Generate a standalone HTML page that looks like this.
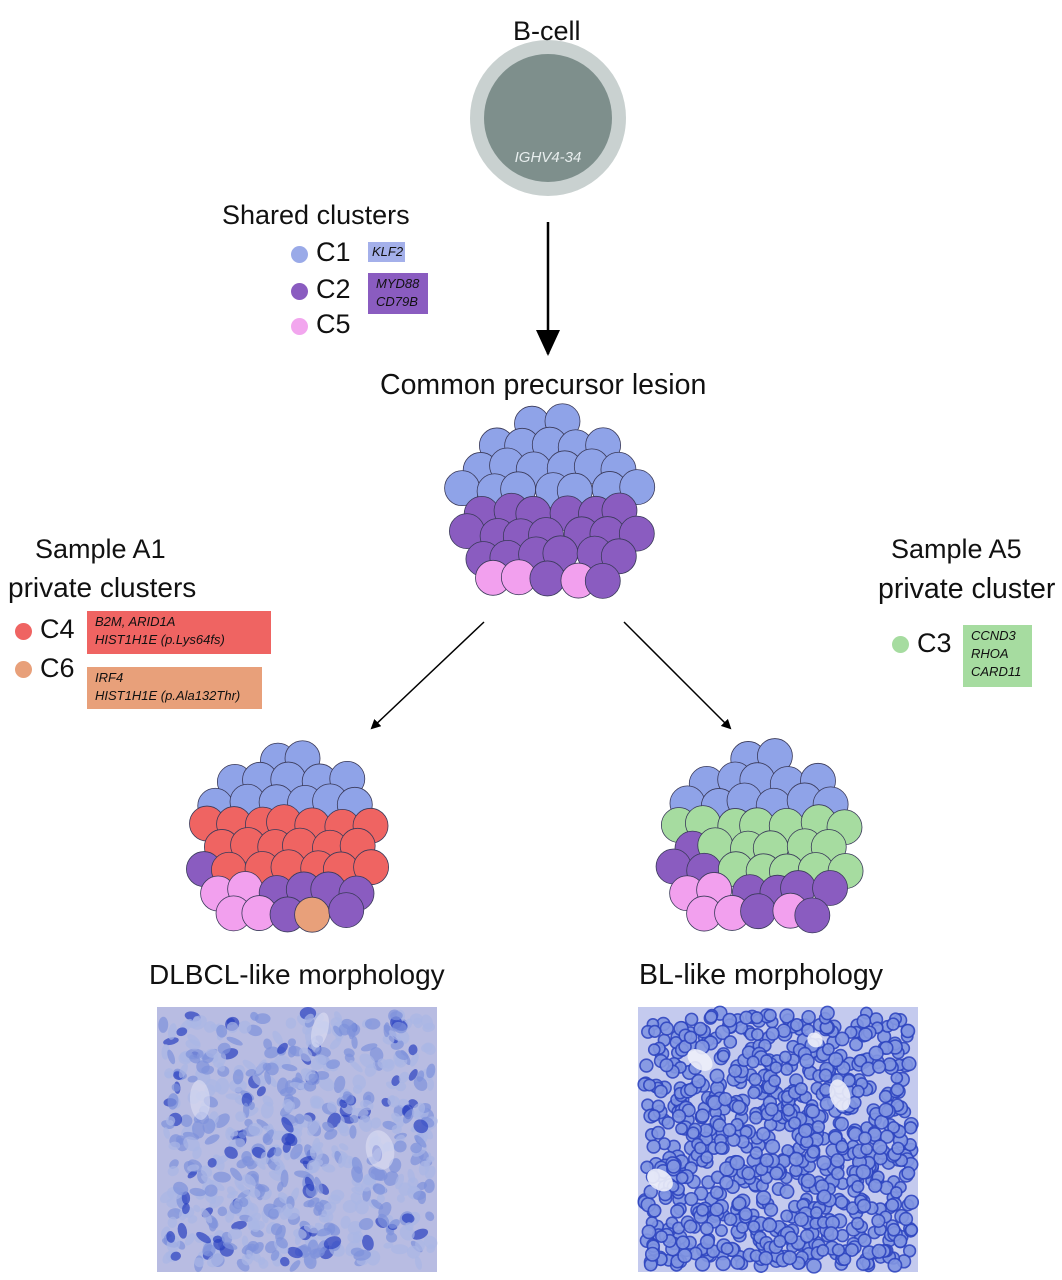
<!DOCTYPE html>
<html><head><meta charset="utf-8"><style>
body{margin:0;background:#fff;width:1062px;height:1280px;overflow:hidden;position:relative;font-family:"Liberation Sans","DejaVu Sans",sans-serif;color:#111}
.t{position:absolute;white-space:nowrap;font-size:27px}
.box{position:absolute;font-style:italic;font-size:13px;line-height:18px;padding:2px 8px;color:#111}
.dot{position:absolute;width:17px;height:17px;border-radius:50%}
</style></head><body>
<svg id="s" width="1062" height="1280" style="position:absolute;left:0;top:0">
<defs><marker id="a" markerWidth="10" markerHeight="10" refX="8" refY="5" orient="auto" markerUnits="userSpaceOnUse"><path d="M0,0L10,5L0,10z" fill="#000"/></marker>
<marker id="b" markerWidth="26" markerHeight="24" refX="24" refY="12" orient="auto" markerUnits="userSpaceOnUse"><path d="M0,0L26,12L0,24z" fill="#000"/></marker></defs>
<circle cx="548" cy="118" r="78" fill="#c9d1d0"/>
<circle cx="548" cy="118" r="64" fill="#7e8f8c"/>
<text x="548" y="162" font-size="15" font-style="italic" fill="#e8eeee" text-anchor="middle" font-family="Liberation Sans,sans-serif">IGHV4-34</text>
<line x1="548" y1="222" x2="548" y2="354" stroke="#000" stroke-width="2.5" marker-end="url(#b)"/>
<line x1="484" y1="622" x2="372" y2="728" stroke="#000" stroke-width="1.5" marker-end="url(#a)"/>
<line x1="624" y1="622" x2="730" y2="728" stroke="#000" stroke-width="1.5" marker-end="url(#a)"/>
<g id="g"></g>
</svg>
<div class="t" style="left:513px;top:16px">B-cell</div>
<div class="t" style="left:222px;top:200px">Shared clusters</div>
<div class="dot" style="left:291px;top:246px;background:#9aaae8"></div><div class="t" style="left:316px;top:237px">C1</div>
<div class="dot" style="left:291px;top:283px;background:#8a5cc0"></div><div class="t" style="left:316px;top:274px">C2</div>
<div class="dot" style="left:291px;top:318px;background:#f2a6ee"></div><div class="t" style="left:316px;top:309px">C5</div>
<div class="box" style="left:368px;top:242px;width:29px;background:#a4b0ea;padding:1px 4px">KLF2</div>
<div class="box" style="left:368px;top:273px;width:44px;background:#8a5cc0;height:37px">MYD88<br>CD79B</div>
<div class="t" style="left:380px;top:369px;font-size:28.5px">Common precursor lesion</div>
<div class="t" style="left:35px;top:534px">Sample A1</div>
<div class="t" style="left:8px;top:572px;font-size:28px">private clusters</div>
<div class="dot" style="left:15px;top:623px;background:#ef6462"></div><div class="t" style="left:40px;top:614px">C4</div>
<div class="dot" style="left:15px;top:661px;background:#e8a07a"></div><div class="t" style="left:40px;top:653px">C6</div>
<div class="box" style="left:87px;top:611px;width:168px;height:39px;background:#ef6462">B2M, ARID1A<br>HIST1H1E (p.Lys64fs)</div>
<div class="box" style="left:87px;top:667px;width:159px;height:38px;background:#e8a07a">IRF4<br>HIST1H1E (p.Ala132Thr)</div>
<div class="t" style="left:891px;top:534px">Sample A5</div>
<div class="t" style="left:878px;top:573px;font-size:28.5px">private cluster</div>
<div class="dot" style="left:892px;top:636px;background:#a6dca0"></div><div class="t" style="left:917px;top:628px">C3</div>
<div class="box" style="left:963px;top:625px;width:53px;height:58px;background:#a6dca0">CCND3<br>RHOA<br>CARD11</div>
<div class="t" style="left:149px;top:959px;font-size:28px">DLBCL-like morphology</div>
<div class="t" style="left:639px;top:959px;font-size:28.5px">BL-like morphology</div>
<script>
var seed=11;function R(){seed=(seed*16807)%2147483647;return seed/2147483647;}
var g=document.getElementById('g'),NS='http://www.w3.org/2000/svg';
function c(x,y,r,f,st,sw,op){var e=document.createElementNS(NS,'circle');e.setAttribute('cx',x);e.setAttribute('cy',y);e.setAttribute('r',r);e.setAttribute('fill',f);if(st){e.setAttribute('stroke',st);e.setAttribute('stroke-width',sw||0.8);}if(op)e.setAttribute('opacity',op);g.appendChild(e);}
function el(x,y,rx,ry,f,op){var e=document.createElementNS(NS,'ellipse');e.setAttribute('cx',x);e.setAttribute('cy',y);e.setAttribute('rx',rx);e.setAttribute('ry',ry);e.setAttribute('fill',f);e.setAttribute('transform','rotate('+(R()*180)+' '+x+' '+y+')');if(op)e.setAttribute('opacity',op);g.appendChild(e);}
var B='#8fa3e8',P='#8a5cc0',K='#f2a0ee',Rd='#ef6462',O='#e8a07a',G='#a6dca0';
function cluster(ox,oy,col){
 for(var j=0;j<9;j++){var y=14+j*22;for(var i=0;i<9;i++){var x=12+i*28+(j%2?14:0);
  var dx=x-110,dy=y-100;if(Math.sqrt(dx*dx+dy*dy)>90)continue;
  var jx=(R()-0.5)*8,jy=(R()-0.5)*6;c(ox+x+jx,oy+y+jy,17.5,col(x,y),'#3a3a5a',0.8);}}}
cluster(440,410,function(x,y){if(y>150&&x<90)return K;if(y>175&&x<150)return K;if(y>150&&x>115&&x<140)return K;if(y<95)return (x>150&&y>80)?P:B;return P;});
cluster(178,745,function(x,y){if(y>150&&x>115&&x<160)return O;if(y>145&&x<90)return K;if(y>175&&x<115)return K;if(y<70)return B;if(y<130)return (y>105&&x<40)?P:Rd;return P;});
cluster(650,745,function(x,y){if(y>145&&x<90)return K;if(y>175&&x<115)return K;if(y>150&&x>110&&x<140)return K;if(y<65)return B;if(y<140)return (y>95&&x<60)?P:G;return P;});
function histo(x0,y0,w,h,bg,n,dense){
 var r=document.createElementNS(NS,'rect');r.setAttribute('x',x0);r.setAttribute('y',y0);r.setAttribute('width',w);r.setAttribute('height',h);r.setAttribute('fill',bg);g.appendChild(r);
 for(var k=0;k<n;k++){var x=x0+6+R()*(w-12),y=y0+6+R()*(h-12);
  if(dense){c(x,y,5.5+R()*1.5,'#8296e2','#2f46c0',1.6,0.9);}
  else{var v=R();el(x,y,4+R()*5,3+R()*4,v<0.12?'#2a40c0':(v<0.5?'#7d91dc':'#a9b6e6'),0.7);}}}
histo(157,1007,280,265,'#b8bce2',650,false);
histo(638,1007,280,265,'#c4caee',800,true);
[[700,1060,14,9],[840,1095,10,16],[660,1180,10,14],[815,1040,8,7]].forEach(function(a){el(a[0],a[1],a[2],a[3],'#eef0fa',0.9);});
[[200,1100,20,10],[320,1030,18,8],[380,1150,14,20]].forEach(function(a){el(a[0],a[1],a[2],a[3],'#dde0f4',0.6);});
</script>
</body></html>
